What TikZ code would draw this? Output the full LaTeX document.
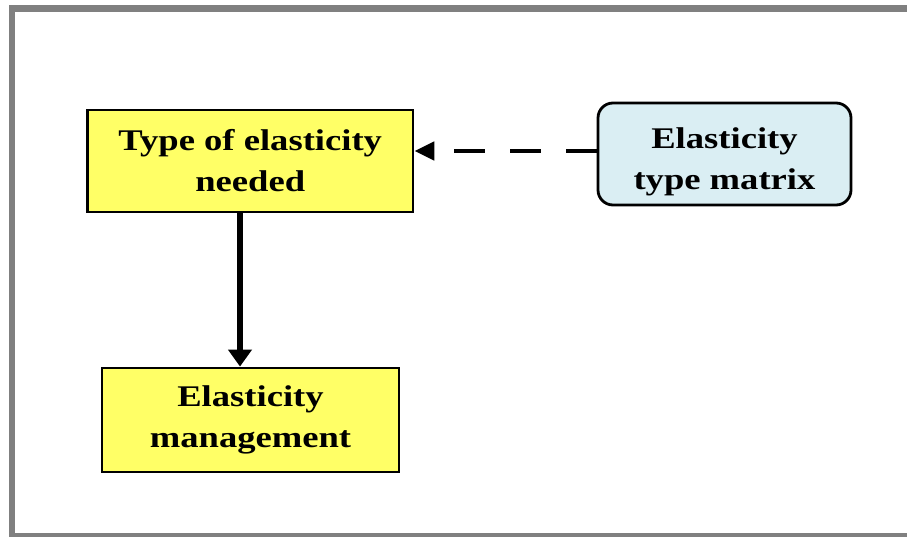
\documentclass[tikz,border=0pt]{standalone}
\usepackage{fontspec}
\newfontfamily\boxfont{Liberation Serif}[FakeStretch=1.22]
\usetikzlibrary{arrows.meta}
\definecolor{boxyellow}{HTML}{FFFF66}
\definecolor{boxblue}{HTML}{DAEEF3}
\definecolor{framegray}{HTML}{808080}
\tikzset{
  box/.style={draw=black, line width=2.8pt, fill=boxyellow, inner sep=0pt, align=center,
    font=\boxfont\bfseries\fontsize{30}{41}\selectfont},
  roundbox/.style={box, fill=boxblue, rounded corners=15pt},
  solidarrow/.style={line width=6.5pt, -{Triangle[length=17pt,width=23pt]}},
  dasharrow/.style={line width=4.5pt, dash pattern=on 31pt off 25pt, -{Triangle[length=20pt,width=18pt]}},
}
\begin{document}
\begin{tikzpicture}[x=1pt,y=-1pt]
\useasboundingbox (0,0) rectangle (907,537);
\draw[framegray, line width=6.5pt] (12,8.5) rectangle (930,536.5);
\node[box, minimum width=325.5pt, minimum height=102pt] (A) at (250.25,161) {Type of elasticity\\needed};
\node[box, minimum width=297pt, minimum height=104pt] (B) at (250.5,420) {Elasticity\\management};
\node[roundbox, minimum width=253pt, minimum height=102pt] (C) at (724.5,154) {\rule{0pt}{37pt}Elasticity\\type matrix};
\coordinate (ax) at (240,0);
\coordinate (dy) at (0,151);
\draw[solidarrow] (A.south -| ax) -- (B.north -| ax);
\draw[dasharrow] (C.west |- dy) -- (A.east |- dy);
\end{tikzpicture}
\end{document}
